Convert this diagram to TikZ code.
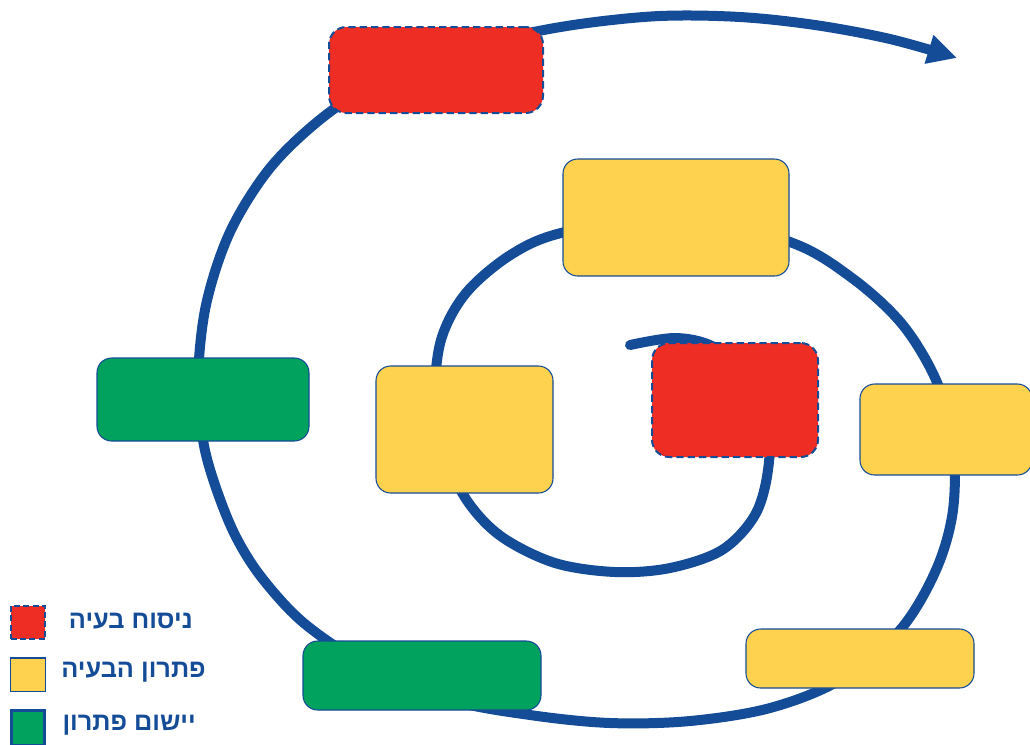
\documentclass[tikz,border=0pt]{standalone}
\usepackage{fontspec}
\newfontfamily\hebfont[Script=Hebrew]{Liberation Sans}
\TeXXeTstate=1
\usetikzlibrary{arrows.meta}
\definecolor{sblue}{HTML}{144C97}
\definecolor{sred}{HTML}{EE2E24}
\definecolor{syellow}{HTML}{FED14E}
\definecolor{sgreen}{HTML}{00A25D}
\tikzset{
  spiral/.style={draw=sblue, line width=7.5pt, line cap=round, line join=round},
  boxbase/.style={rectangle, rounded corners=11pt, inner sep=0pt},
  redbox/.style={boxbase, fill=sred, draw=sblue, line width=1.5pt, dash pattern=on 5.5pt off 3pt, rounded corners=13pt},
  yelbox/.style={boxbase, fill=syellow, draw=sblue, line width=0.8pt},
  grnbox/.style={boxbase, fill=sgreen, draw=sblue, line width=0.8pt},
  legred/.style={rectangle, fill=sred, draw=sblue, line width=1.5pt, dash pattern=on 4.5pt off 2.5pt, minimum width=26pt, minimum height=25pt, inner sep=0pt},
  legyel/.style={rectangle, fill=syellow, draw=sblue, line width=1pt, minimum width=26pt, minimum height=25pt, inner sep=0pt},
  leggrn/.style={rectangle, fill=sgreen, draw=sblue, line width=2pt, minimum width=25pt, minimum height=26pt, inner sep=0pt},
  legtext/.style={anchor=east, text=sblue, font=\hebfont\bfseries\fontsize{19}{22}\selectfont, inner sep=0pt}
}
\begin{document}
\begin{tikzpicture}[x=0.75pt,y=-0.75pt]
\useasboundingbox (0,0) rectangle (1030,744);
% spiral
\draw[spiral, -{Triangle[length=22pt,width=21pt]}] plot[smooth, tension=0.55] coordinates {
 (630,345) (675,338) (712,346) (745,372) (768,420) (768,470) (755,515) (722,550) (670,568) (615,572)
 (555,563) (502,537) (468,502) (445,455) (435,400) (441,340) (466,293) (512,254) (565,232)
 (676,215) (790,242) (852,278) (902,324) (936,380) (953,440) (953,510) (936,570) (900,630)
 (840,680) (770,708) (690,721) (610,723) (530,715) (450,700) (370,667) (305,624)
 (262,578) (235,535) (215,485) (203,440) (198,380) (206,305) (230,232) (270,168) (322,118) (380,80)
 (440,56) (510,37) (580,24) (660,16) (740,17) (815,25) (890,39) (957,58)};
% boxes
\node[redbox, minimum width=160.5pt, minimum height=64.5pt] (r1) at (436,70) {};
\node[yelbox, minimum width=169.5pt, minimum height=87.75pt] (y1) at (676,217.5) {};
\node[yelbox, minimum width=132.75pt, minimum height=95.25pt] (y2) at (464.5,429.5) {};
\node[redbox, minimum width=124.5pt, minimum height=85.5pt] (r2) at (735,400) {};
\node[yelbox, minimum width=129pt, minimum height=68.25pt] (y3) at (946,429.5) {};
\node[yelbox, minimum width=171pt, minimum height=44.25pt] (y4) at (860,658.5) {};
\node[grnbox, minimum width=178.5pt, minimum height=51.75pt] (g1) at (422,675.5) {};
\node[grnbox, minimum width=159pt, minimum height=62.25pt] (g2) at (203,399.5) {};
% legend
\node[legred] (lr) at (28,622.5) {};
\node[legyel] (ly) at (28,674.5) {};
\node[leggrn] (lg) at (28,728) {};
\node[legtext] (lt1) at (193,621) {\beginR ניסוח בעיה\endR};
\node[legtext] (lt2) at (206,672) {\beginR פתרון הבעיה\endR};
\node[legtext] (lt3) at (196,725) {\beginR יישום פתרון\endR};
\end{tikzpicture}
\end{document}
